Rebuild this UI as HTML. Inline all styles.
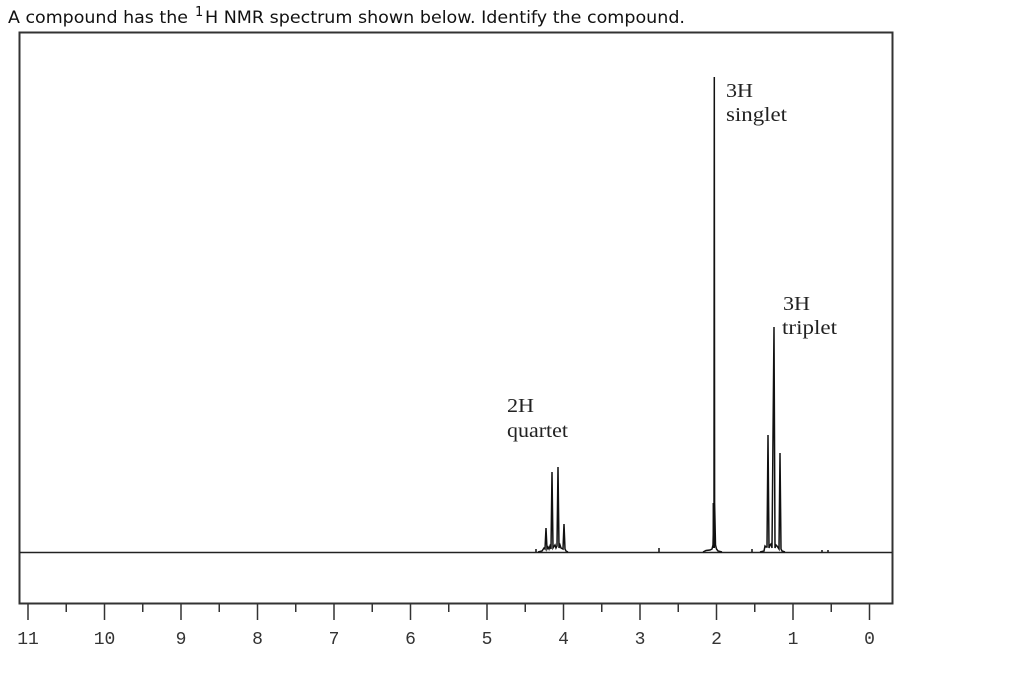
<!DOCTYPE html>
<html>
<head>
<meta charset="utf-8">
<style>
  html, body { margin:0; padding:0; background:#fff; }
  svg { display:block; }
</style>
</head>
<body>
<svg width="1024" height="677" viewBox="0 0 1024 677" xmlns="http://www.w3.org/2000/svg">
  <rect x="0" y="0" width="1024" height="677" fill="#fff"/>
  <!-- Title -->
  <text x="8" y="23" font-family="DejaVu Sans, Verdana, sans-serif" font-size="17" fill="#111" textLength="180" lengthAdjust="spacingAndGlyphs">A compound has the</text>
  <text x="195" y="16" font-family="DejaVu Sans, Verdana, sans-serif" font-size="13" fill="#111">1</text>
  <text x="205" y="23" font-family="DejaVu Sans, Verdana, sans-serif" font-size="17" fill="#111" textLength="480" lengthAdjust="spacingAndGlyphs">H NMR spectrum shown below. Identify the compound.</text>

  <!-- Frame -->
  <rect x="19.5" y="32.5" width="873" height="571" fill="none" stroke="#333" stroke-width="2"/>

  <!-- Baseline -->
  <line x1="20" y1="552.5" x2="892" y2="552.5" stroke="#222" stroke-width="1.5"/>

  <!-- Ticks -->
  <g stroke="#333" stroke-width="1.5">
    <line x1="869.5" y1="604" x2="869.5" y2="620"/>
    <line x1="793" y1="604" x2="793" y2="620"/>
    <line x1="716.5" y1="604" x2="716.5" y2="620"/>
    <line x1="640" y1="604" x2="640" y2="620"/>
    <line x1="563.5" y1="604" x2="563.5" y2="620"/>
    <line x1="487" y1="604" x2="487" y2="620"/>
    <line x1="410.5" y1="604" x2="410.5" y2="620"/>
    <line x1="334" y1="604" x2="334" y2="620"/>
    <line x1="257.5" y1="604" x2="257.5" y2="620"/>
    <line x1="181" y1="604" x2="181" y2="620"/>
    <line x1="104.5" y1="604" x2="104.5" y2="620"/>
    <line x1="28" y1="604" x2="28" y2="620"/>

    <line x1="831.25" y1="604" x2="831.25" y2="612"/>
    <line x1="754.75" y1="604" x2="754.75" y2="612"/>
    <line x1="678.25" y1="604" x2="678.25" y2="612"/>
    <line x1="601.75" y1="604" x2="601.75" y2="612"/>
    <line x1="525.25" y1="604" x2="525.25" y2="612"/>
    <line x1="448.75" y1="604" x2="448.75" y2="612"/>
    <line x1="372.25" y1="604" x2="372.25" y2="612"/>
    <line x1="295.75" y1="604" x2="295.75" y2="612"/>
    <line x1="219.25" y1="604" x2="219.25" y2="612"/>
    <line x1="142.75" y1="604" x2="142.75" y2="612"/>
    <line x1="66.25" y1="604" x2="66.25" y2="612"/>
  </g>

  <!-- Tick labels -->
  <g font-family="Liberation Mono, DejaVu Sans Mono, monospace" font-size="18" fill="#333" text-anchor="middle">
    <text x="869.5" y="644">0</text>
    <text x="793" y="644">1</text>
    <text x="716.5" y="644">2</text>
    <text x="640" y="644">3</text>
    <text x="563.5" y="644">4</text>
    <text x="487" y="644">5</text>
    <text x="410.5" y="644">6</text>
    <text x="334" y="644">7</text>
    <text x="257.5" y="644">8</text>
    <text x="181" y="644">9</text>
    <text x="104.5" y="644">10</text>
    <text x="28" y="644">11</text>
  </g>

  <!-- Peaks -->
  <g fill="none" stroke="#111" stroke-width="1.5" stroke-linejoin="miter">
    <!-- quartet -->
    <polyline points="538,552 542,551 544,548 545,549 546,528 547,549 548,547 549,549 550,546 551,549 552,472 553,548 555,545 556,548 557,546 558,467 559,548 560,545 561,548 563,549 564,524 565,549 566,551 568,552"/>
    <!-- singlet -->
    <polyline points="703,552 706,550.5 710,550 712,549 713,545 714,503 714.3,77 714.6,503 715.5,545 716.5,549 718,551 722,552"/>
    <line x1="713.8" y1="503" x2="713.8" y2="548" stroke-width="2.5"/>
    <!-- triplet -->
    <polyline points="760,552 764,551 765,546 766,547 767,547 768,435 769,548 770,545 771,544 772,548 774,327 775,548 776,545 777,546 779,549 780,453 781,549 782,551 785,552"/>
    <!-- noise -->
    <line x1="536" y1="549" x2="536" y2="552"/>
    <line x1="659" y1="548" x2="659" y2="552"/>
    <line x1="752" y1="549" x2="752" y2="552"/>
    <line x1="822" y1="550" x2="822" y2="552"/>
    <line x1="828" y1="550" x2="828" y2="552"/>
  </g>

  <!-- Peak annotations -->
  <g font-family="Liberation Serif, Times New Roman, serif" font-size="20" fill="#222">
    <text x="507" y="412" textLength="27" lengthAdjust="spacingAndGlyphs">2H</text>
    <text x="507" y="437" textLength="61" lengthAdjust="spacingAndGlyphs">quartet</text>
    <text x="726" y="97" textLength="27" lengthAdjust="spacingAndGlyphs">3H</text>
    <text x="726" y="121" textLength="61" lengthAdjust="spacingAndGlyphs">singlet</text>
    <text x="783" y="310" textLength="27" lengthAdjust="spacingAndGlyphs">3H</text>
    <text x="782" y="334" textLength="55" lengthAdjust="spacingAndGlyphs">triplet</text>
  </g>
</svg>
</body>
</html>
